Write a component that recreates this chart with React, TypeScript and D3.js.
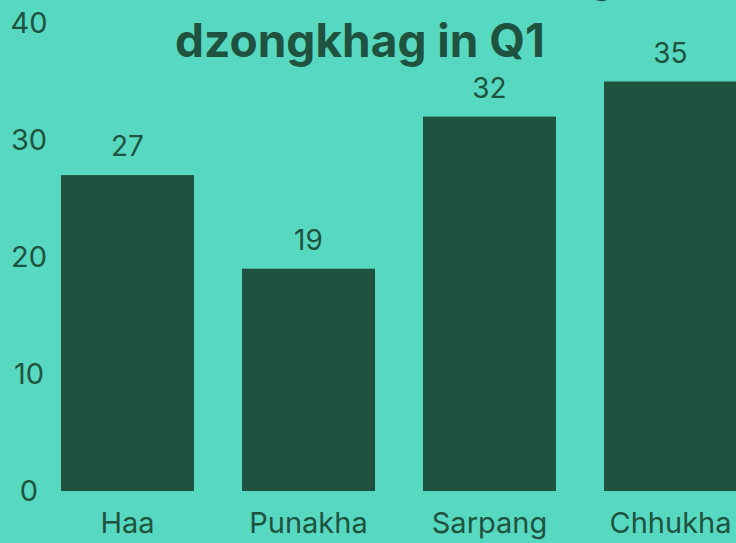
import React from "react";
import * as d3 from "d3";

const categories = ["Haa", "Punakha", "Sarpang", "Chhukha"];
const values = [27, 19, 32, 35];
const yTicks = [0, 10, 20, 30, 40];
const titleLines = ["Number of tourists by", "dzongkhag in Q1"];

const W = 736;
const H = 543;
const BG = "#57d9c1";
const DARK = "#1f5340";
const FONT = "Inter, 'Noto Sans', sans-serif";

export default function App() {
  const x = d3
    .scaleBand<string>()
    .domain(categories)
    .range([37, 761])
    .paddingInner(0.265)
    .paddingOuter(0.1325);
  const y = d3.scaleLinear().domain([0, 40]).range([491, 23]);

  return (
    <svg
      width={W}
      height={H}
      style={{ position: "absolute", left: 0, top: 0, background: BG }}
    >
      <rect x={0} y={0} width={W} height={H} fill={BG} />
      {yTicks.map((t) => (
        <text
          key={t}
          x={29}
          y={y(t)}
          dy="0.36em"
          textAnchor="middle"
          fontFamily={FONT}
          fontSize={29}
          fill={DARK}
        >
          {t}
        </text>
      ))}
      {categories.map((c, i) => (
        <g key={c}>
          <rect
            x={x(c)}
            y={y(values[i])}
            width={x.bandwidth()}
            height={y(0) - y(values[i])}
            fill={DARK}
          />
          <text
            x={(x(c) as number) + x.bandwidth() / 2}
            y={y(values[i]) - 19}
            textAnchor="middle"
            fontFamily={FONT}
            fontSize={28}
            fill={DARK}
          >
            {values[i]}
          </text>
          <text
            x={(x(c) as number) + x.bandwidth() / 2}
            y={533}
            textAnchor="middle"
            fontFamily={FONT}
            fontSize={29}
            fill={DARK}
          >
            {c}
          </text>
        </g>
      ))}
      <text
        x={622}
        y={-8}
        textAnchor="end"
        fontFamily={FONT}
        fontWeight={700}
        fontSize={46}
        fill={DARK}
      >
        {titleLines[0]}
      </text>
      <text
        x={360}
        y={57}
        textAnchor="middle"
        fontFamily={FONT}
        fontWeight={700}
        fontSize={46}
        fill={DARK}
      >
        {titleLines[1]}
      </text>
    </svg>
  );
}
